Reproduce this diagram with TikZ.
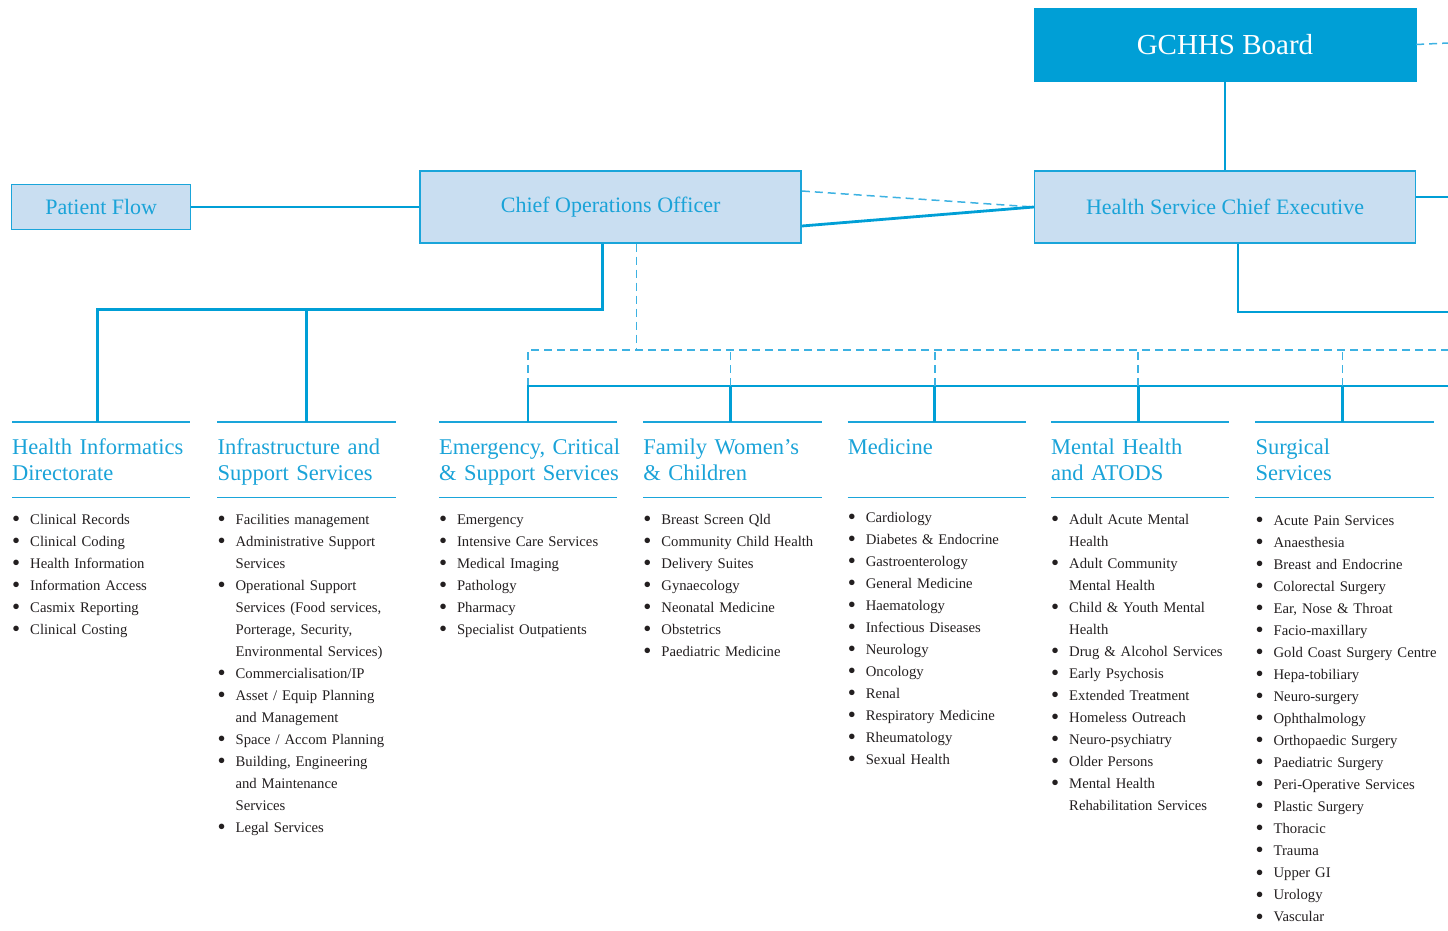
\documentclass[tikz,border=0pt]{standalone}
\usepackage{fontspec}
\setmainfont{Liberation Serif}
\usepackage{tikz}
\usetikzlibrary{positioning,calc}

\definecolor{hhsblue}{HTML}{009FD6}
\definecolor{hhsline}{HTML}{1AA5DA}
\definecolor{hhsdash}{HTML}{3DB2E2}
\definecolor{hhslight}{HTML}{C9DEF1}
\definecolor{hhstext}{HTML}{1AA3D8}
\definecolor{hhsink}{HTML}{231F20}

% one bulleted entry, wrapped lines hang under the text
\newcommand\bul[1]{\hangindent=18pt\hangafter=1\noindent
  \makebox[18pt][l]{\raisebox{-2.2pt}{\fontsize{23}{23}\selectfont\textbullet}}#1\par}

\tikzset{
  boardbox/.style={
    rectangle, draw=hhsblue, fill=hhsblue, text=white,
    minimum width=382, minimum height=73, inner sep=0,
    font=\fontsize{29}{34}\selectfont
  },
  mgrbox/.style={
    rectangle, draw=hhsline, line width=1.4, fill=hhslight, text=hhstext,
    minimum width=381, minimum height=72, inner sep=0,
    font=\fontsize{22}{26}\selectfont
  },
  flowbox/.style={mgrbox, minimum width=179, minimum height=45},
  unithead/.style={rectangle, minimum width=178, minimum height=75, inner sep=0},
  unittitle/.style={
    anchor=base west, text width=200, align=left, inner sep=0,
    text=hhstext, font=\fontsize{22.5}{26}\selectfont
  },
  unitlist/.style={
    anchor=base west, text width=200, align=left, inner sep=0,
    text=hhsink, font=\fontsize{14.7}{22.05}\selectfont
  },
  unitrule/.style={draw=hhsline, line width=1.8},
  link/.style={draw=hhsblue, line width=2.8},
  dotlink/.style={draw=hhsdash, line width=1.5, dash pattern=on 8pt off 5pt},
}

\begin{document}
\begin{tikzpicture}[x=1pt, y=-1pt]
  \useasboundingbox (0,0) rectangle (1448,930);

  % executive boxes
  \node (board) [boardbox] at (1225,44.5) {GCHHS Board};
  \node (ceo) [mgrbox] at (1225,207) {Health Service Chief Executive};
  \node (coo) [mgrbox, left=232 of ceo] {Chief Operations Officer};
  \node (flow) [flowbox, left=228 of coo] {Patient Flow};

  % loose ends running off to the right
  \coordinate (out-board) at (1448,43);
  \coordinate (out-ceo) at (1448,197);
  \coordinate (out-down) at (1448,312);
  \coordinate (out-bus) at (1448,386);
  \coordinate (out-dash) at (1448,350);

  % unit headers
  \node (hid) [unithead, anchor=north west] at (12,422) {};
  \node (iss) [unithead, right=27 of hid] {};
  \node (ecss) [unithead, right=43 of iss] {};
  \node (fwc) [unithead, right=26 of ecss] {};
  \node (med) [unithead, right=26 of fwc] {};
  \node (mh) [unithead, right=25 of med] {};
  \node (surg) [unithead, right=26 of mh] {};

  \foreach \u in {hid,iss,ecss,fwc,med,mh,surg} {
    \draw[unitrule] (\u.north west) -- (\u.north east);
    \draw[unitrule] (\u.south west) -- (\u.south east);
  }

  \node (hid-t) [unittitle] at ([yshift=-32pt]hid.north west) {Health Informatics\\Directorate};
  \node (iss-t) [unittitle] at ([yshift=-32pt]iss.north west) {Infrastructure and\\Support Services};
  \node (ecss-t) [unittitle] at ([yshift=-32pt]ecss.north west) {Emergency, Critical\\\& Support Services};
  \node (fwc-t) [unittitle] at ([yshift=-32pt]fwc.north west) {Family Women’s\\\& Children};
  \node (med-t) [unittitle] at ([yshift=-32pt]med.north west) {Medicine};
  \node (mh-t) [unittitle] at ([yshift=-32pt]mh.north west) {Mental Health\\and ATODS};
  \node (surg-t) [unittitle] at ([yshift=-32pt]surg.north west) {Surgical\\Services};

  % unit contents
  \node (hid-l) [unitlist] at ([yshift=-102pt]hid.north west) {%
    \bul{Clinical Records}
    \bul{Clinical Coding}
    \bul{Health Information}
    \bul{Information Access}
    \bul{Casmix Reporting}
    \bul{Clinical Costing}};
  \node (iss-l) [unitlist] at ([yshift=-102pt]iss.north west) {%
    \bul{Facilities management}
    \bul{Administrative Support\newline Services}
    \bul{Operational Support\newline Services (Food services,\newline Porterage, Security,\newline Environmental Services)}
    \bul{Commercialisation/IP}
    \bul{Asset / Equip Planning\newline and Management}
    \bul{Space / Accom Planning}
    \bul{Building, Engineering\newline and Maintenance\newline Services}
    \bul{Legal Services}};
  \node (ecss-l) [unitlist] at ([yshift=-102pt]ecss.north west) {%
    \bul{Emergency}
    \bul{Intensive Care Services}
    \bul{Medical Imaging}
    \bul{Pathology}
    \bul{Pharmacy}
    \bul{Specialist Outpatients}};
  \node (fwc-l) [unitlist] at ([yshift=-102pt]fwc.north west) {%
    \bul{Breast Screen Qld}
    \bul{Community Child Health}
    \bul{Delivery Suites}
    \bul{Gynaecology}
    \bul{Neonatal Medicine}
    \bul{Obstetrics}
    \bul{Paediatric Medicine}};
  \node (med-l) [unitlist] at ([yshift=-100pt]med.north west) {%
    \bul{Cardiology}
    \bul{Diabetes \& Endocrine}
    \bul{Gastroenterology}
    \bul{General Medicine}
    \bul{Haematology}
    \bul{Infectious Diseases}
    \bul{Neurology}
    \bul{Oncology}
    \bul{Renal}
    \bul{Respiratory Medicine}
    \bul{Rheumatology}
    \bul{Sexual Health}};
  \node (mh-l) [unitlist] at ([yshift=-102pt]mh.north west) {%
    \bul{Adult Acute Mental\newline Health}
    \bul{Adult Community\newline Mental Health}
    \bul{Child \& Youth Mental\newline Health}
    \bul{Drug \& Alcohol Services}
    \bul{Early Psychosis}
    \bul{Extended Treatment}
    \bul{Homeless Outreach}
    \bul{Neuro-psychiatry}
    \bul{Older Persons}
    \bul{Mental Health\newline Rehabilitation Services}};
  \node (surg-l) [unitlist] at ([yshift=-103pt]surg.north west) {%
    \bul{Acute Pain Services}
    \bul{Anaesthesia}
    \bul{Breast and Endocrine}
    \bul{Colorectal Surgery}
    \bul{Ear, Nose \& Throat}
    \bul{Facio-maxillary}
    \bul{Gold Coast Surgery Centre}
    \bul{Hepa-tobiliary}
    \bul{Neuro-surgery}
    \bul{Ophthalmology}
    \bul{Orthopaedic Surgery}
    \bul{Paediatric Surgery}
    \bul{Peri-Operative Services}
    \bul{Plastic Surgery}
    \bul{Thoracic}
    \bul{Trauma}
    \bul{Upper GI}
    \bul{Urology}
    \bul{Vascular}};

  % reporting lines
  \draw[dotlink] (board.east) -- (out-board);
  \draw[link] (board) -- (ceo);
  \draw[link] ([yshift=10pt]ceo.east) -- (out-ceo);
  \draw[link] ([xshift=13pt]ceo.south) |- (out-down);
  \draw[dotlink] ([yshift=16pt]coo.east) -- (ceo.west);
  \draw[link] ([yshift=-19pt]coo.east) -- (ceo.west);
  \draw[link] (flow) -- (coo);

  \draw[link] ([xshift=-8pt]coo.south) -- ++(0,66) -| ([xshift=-4pt]hid.north);
  \draw[link] (iss.north) -- ++(0,-113);

  \draw[dotlink] ([xshift=26pt]coo.south) -- ++(0,107);
  \draw[dotlink] ([yshift=36pt]ecss.north) |- (out-dash);
  \draw[link] (ecss.north) |- (out-bus);
  \foreach \u in {fwc,med,mh,surg} {
    \draw[dotlink] ([xshift=-2pt, yshift=36pt]\u.north) -- ++(0,-36);
    \draw[link] ([xshift=-2pt]\u.north) -- ++(0,-36);
  }
\end{tikzpicture}
\end{document}
